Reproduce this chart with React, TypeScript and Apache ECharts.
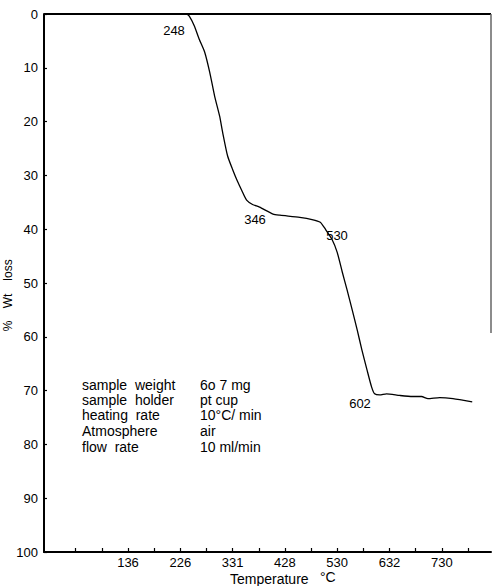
import React, { useEffect, useRef } from "react";
import * as echarts from "echarts";

// x-axis tick labels (temperature, °C) printed under the major ticks
const tickTemps = [136, 226, 331, 428, 530, 632, 730];
const tickLabels = ["136", "226", "331", "428", "530", "632", "730"];

// TG curve: temperature (°C) and % weight loss
const curveTemps = [30, 173, 238, 244, 254, 264, 275, 285, 295, 305, 311, 321, 331, 340, 348, 357, 368, 381, 406, 419, 457, 481, 497, 507, 520, 530, 540, 549, 559, 569, 578, 588, 597, 603, 613, 626, 651, 675, 692, 704, 726, 751, 787];
const curveLoss = [0, 0, 0, 0.4, 2.2, 4.7, 7.1, 10.8, 15.3, 19.0, 22.0, 26.4, 28.9, 31.1, 32.8, 34.6, 35.4, 35.9, 37.2, 37.4, 37.8, 38.2, 38.7, 40.0, 41.9, 44.3, 48.0, 51.2, 54.9, 58.7, 62.4, 66.1, 69.3, 70.6, 70.8, 70.6, 70.9, 71.1, 71.1, 71.5, 71.3, 71.5, 72.1];

// annotated temperatures on the curve
const annotLabels = ["248", "346", "530", "602"];

// experimental conditions
const condNames = ["sample  weight", "sample  holder", "heating  rate", "Atmosphere", "flow  rate"];
const condValues = ["6o 7 mg", "pt cup", "10°C/ min", "air", "10 ml/min"];

function tempToPos(t: number): number {
  const n = tickTemps.length;
  let i = 0;
  if (t <= tickTemps[0]) i = 0;
  else if (t >= tickTemps[n - 1]) i = n - 2;
  else {
    while (t > tickTemps[i + 1]) i++;
  }
  return i + (t - tickTemps[i]) / (tickTemps[i + 1] - tickTemps[i]);
}

const FONT = '"Liberation Sans", Arial, sans-serif';

export default function App() {
  const ref = useRef<HTMLDivElement>(null);
  useEffect(() => {
    if (!ref.current) return;
    const chart = echarts.init(ref.current, undefined, { renderer: "svg" });
    const data = curveTemps.map((t, i) => [tempToPos(t), curveLoss[i]]);
    const tickVals: number[] = [];
    for (let v = -1; v <= 6.5; v += 0.5) tickVals.push(v);
    const labelVals = tickLabels.map((_, i) => i);

    const annotPos = [
      [174, 30],
      [255, 219],
      [337, 235],
      [360, 403],
    ];
    const condY = [385, 400, 415, 431, 447];

    const graphic: any[] = [
      { type: "line", shape: { x1: 44, y1: 14, x2: 491, y2: 14 }, style: { stroke: "#000", lineWidth: 2 } },
      { type: "line", shape: { x1: 491, y1: 14, x2: 491, y2: 333 }, style: { stroke: "#666", lineWidth: 1.5 } },
      { type: "text", x: 8, y: 270, rotation: Math.PI / 2, style: { text: "loss", font: `12px ${FONT}`, fill: "#000", align: "center", verticalAlign: "middle" } },
      { type: "text", x: 8, y: 301, rotation: Math.PI / 2, style: { text: "Wt", font: `12px ${FONT}`, fill: "#000", align: "center", verticalAlign: "middle" } },
      { type: "text", x: 8, y: 326, rotation: Math.PI / 2, style: { text: "%", font: `12px ${FONT}`, fill: "#000", align: "center", verticalAlign: "middle" } },
      { type: "text", x: 230, y: 579, style: { text: "Temperature", font: `14px ${FONT}`, fill: "#000", align: "left", verticalAlign: "middle" } },
      { type: "text", x: 320, y: 577, style: { text: "°C", font: `14px ${FONT}`, fill: "#000", align: "left", verticalAlign: "middle" } },
    ];
    annotLabels.forEach((s, i) => {
      graphic.push({ type: "text", x: annotPos[i][0], y: annotPos[i][1], style: { text: s, font: `13px ${FONT}`, fill: "#000", align: "center", verticalAlign: "middle" } });
    });
    condNames.forEach((s, i) => {
      graphic.push({ type: "text", x: 82, y: condY[i], style: { text: s, font: `14px ${FONT}`, fill: "#000", align: "left", verticalAlign: "middle" } });
      graphic.push({ type: "text", x: 200, y: condY[i], style: { text: condValues[i], font: `14px ${FONT}`, fill: "#000", align: "left", verticalAlign: "middle" } });
    });

    chart.setOption({
      animation: false,
      backgroundColor: "#fff",
      grid: { left: 44, right: 1, top: 14, bottom: 34, containLabel: false, outerBoundsMode: "none" },
      xAxis: {
        type: "value",
        min: (44 - 128) / 52.3,
        max: (491 - 128) / 52.3,
        axisLine: { show: true, onZero: false, lineStyle: { color: "#000", width: 2 } },
        axisTick: { show: true, inside: true, length: 4, customValues: tickVals, lineStyle: { color: "#000", width: 1.2 } },
        axisLabel: {
          show: true,
          customValues: labelVals,
          formatter: (v: number) => tickLabels[Math.round(v)] ?? "",
          color: "#000",
          fontSize: 13,
          fontFamily: FONT,
          margin: 4,
        },
        splitLine: { show: false },
      },
      yAxis: {
        type: "value",
        inverse: true,
        min: 0,
        max: 100,
        interval: 10,
        axisLine: { show: true, onZero: false, lineStyle: { color: "#000", width: 2 } },
        axisTick: { show: true, inside: true, length: 3, lineStyle: { color: "#000", width: 1.2 } },
        axisLabel: { color: "#000", fontSize: 13, fontFamily: FONT, margin: 6 },
        splitLine: { show: false },
      },
      series: [
        {
          type: "line",
          data,
          showSymbol: false,
          smooth: 0.2,
          lineStyle: { color: "#000", width: 1.3 },
        },
      ],
      graphic,
    });
    return () => chart.dispose();
  }, []);
  return <div ref={ref} style={{ width: 492, height: 586, position: "absolute", left: 0, top: 0 }} />;
}
